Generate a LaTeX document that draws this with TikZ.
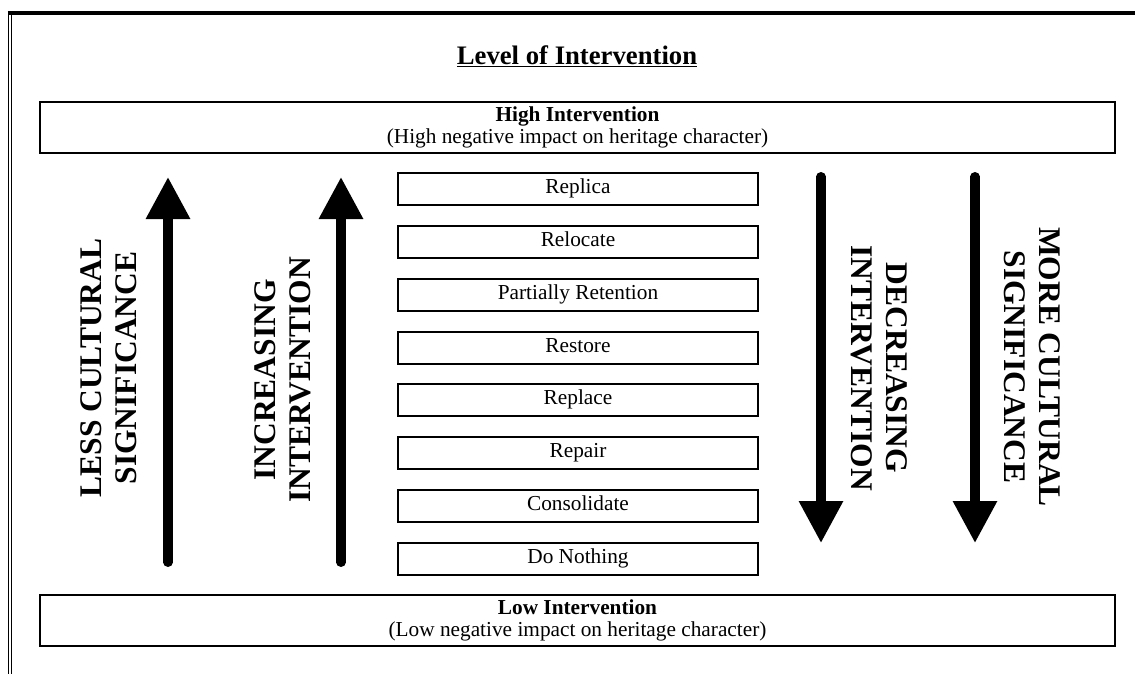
\documentclass[tikz,border=0pt]{standalone}
\usepackage{fontspec}
\setmainfont{Liberation Serif}
\usetikzlibrary{matrix,arrows.meta,positioning}

\tikzset{
	levelbox/.style={draw, line width=2pt, minimum width=1075pt, minimum height=51pt, inner sep=0pt, align=center, font=\fontsize{21.3}{22}\selectfont},
	itembox/.style={draw, line width=2pt, minimum width=360pt, minimum height=32pt, inner sep=0pt, text height=14.5pt, text depth=5.5pt, font=\fontsize{21.3}{22}\selectfont},
	bigarrow/.style={line width=9.3pt, line cap=round, -{Triangle[width=42pt,length=42pt]}},
	sidetext/.style={align=center, inner sep=0pt, font=\fontsize{31.5}{35}\selectfont\bfseries}
}

\begin{document}
\begin{tikzpicture}[x=1pt, y=-1pt]
		\useasboundingbox (0,0) rectangle (1135,674);
		% page frame
		\draw[line width=1.2pt] (8.5,11) -- (8.5,674);
		\draw[line width=1.2pt] (11.2,15) -- (11.2,674);
		\draw[line width=4pt] (7.9,13) -- (1135,13);

		\node[anchor=base, font=\fontsize{26.7}{30}\selectfont\bfseries] (title) at (577,65) {\underline{Level of Intervention}};

		\node[levelbox] (high) at (577.5,127.5) {\textbf{High Intervention}\\(High negative impact on heritage character)};
		\node[levelbox] (low) at (577.5,620.5) {\textbf{Low Intervention}\\(Low negative impact on heritage character)};

		\matrix (m) [matrix of nodes, row sep=18.86pt, nodes={itembox}] at (578,374)
		{
			Replica \\
			Relocate \\
			Partially Retention \\
			Restore \\
			Replace \\
			Repair \\
			Consolidate \\
			Do Nothing \\
		};

		\coordinate (less-s) at (168,562.3);
		\coordinate (less-e) at (168,177);
		\coordinate (incr-s) at (341,562.3);
		\coordinate (incr-e) at (341,177);
		\coordinate (decr-s) at (821,176.7);
		\coordinate (decr-e) at (821,543);
		\coordinate (more-s) at (975,176.7);
		\coordinate (more-e) at (975,543);
		\draw[bigarrow] (less-s) -- (less-e);
		\draw[bigarrow] (incr-s) -- (incr-e);
		\draw[bigarrow] (decr-s) -- (decr-e);
		\draw[bigarrow] (more-s) -- (more-e);

		\node[sidetext, rotate=90] (less) at (109,368) {LESS CULTURAL\\SIGNIFICANCE};
		\node[sidetext, rotate=90] (incr) at (282.5,380) {INCREASING\\INTERVENTION};
		\node[sidetext, rotate=-90] (decr) at (879,368) {DECREASING\\INTERVENTION};
		\node[sidetext, rotate=-90] (more) at (1032,367) {MORE CULTURAL\\SIGNIFICANCE};
	\end{tikzpicture}
\end{document}
